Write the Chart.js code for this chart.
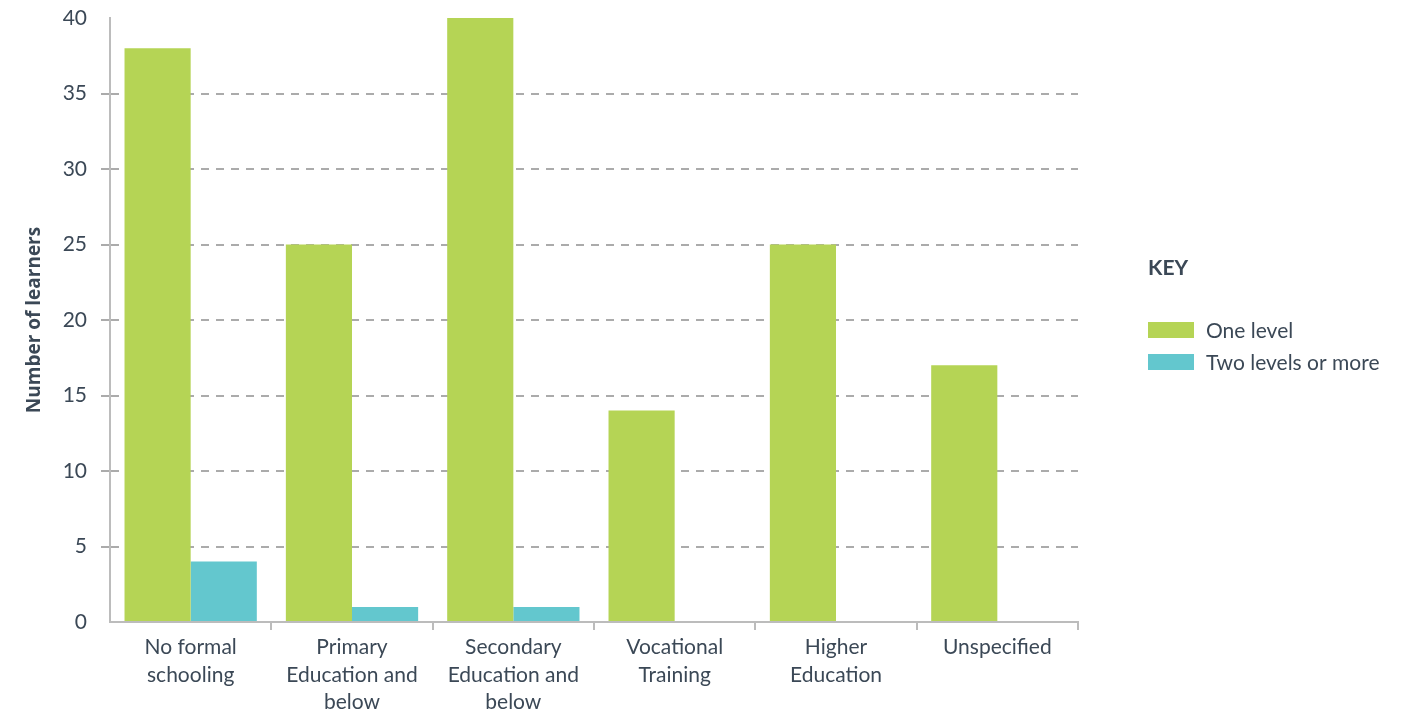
<!DOCTYPE html>
<html>
<head>
<meta charset="utf-8">
<title>Number of learners by education level</title>
<script src="https://cdn.jsdelivr.net/npm/chart.js@4/dist/chart.umd.min.js"></script>
<style>
    html, body { margin: 0; padding: 0; background: #fff; }
    #wrap { width: 1421px; height: 712px; position: relative; }
</style>
</head>
<body>
<div id="wrap"><canvas id="learners-chart"></canvas></div>
<script>
const categories = [
    ['No formal', 'schooling'],
    ['Primary', 'Education and', 'below'],
    ['Secondary', 'Education and', 'below'],
    ['Vocational', 'Training'],
    ['Higher', 'Education'],
    ['Unspecified']
];
const oneLevel = [38, 25, 40, 14, 25, 17];
const twoLevelsOrMore = [4, 1, 1, 0, 0, 0];
const yTicks = [0, 5, 10, 15, 20, 25, 30, 35, 40];

const TEXT = '#3b4856';
const AXIS = '#bcbcbc';
const GRID = '#ababab';
const FONT = 'Lato, "Open Sans", sans-serif';
const CLEAR = 'rgba(0,0,0,0)';

// key drawn on the right, next to the plot
const keyPlugin = {
    id: 'key',
    afterDraw(chart) {
        const ctx = chart.ctx;
        ctx.save();
        ctx.textBaseline = 'middle';
        ctx.textAlign = 'left';
        ctx.fillStyle = TEXT;
        ctx.font = `bold 21px ${FONT}`;
        ctx.fillText('KEY', 1148, 268);
        ctx.font = `21px ${FONT}`;
        chart.data.datasets.forEach((ds, i) => {
            const y = 330 + i * 32;
            ctx.fillStyle = ds.backgroundColor;
            ctx.fillRect(1148, y - 8, 46, 16);
            ctx.fillStyle = TEXT;
            ctx.fillText(ds.label, 1206, y + 1);
        });
        ctx.restore();
    }
};

const hideEnds = c => (c.tick.value === 0 || c.tick.value === 40);

new Chart(document.getElementById('learners-chart'), {
    type: 'bar',
    data: {
        labels: categories,
        datasets: [
            { label: 'One level', data: oneLevel, backgroundColor: '#b5d455' },
            { label: 'Two levels or more', data: twoLevelsOrMore, backgroundColor: '#63c7ce' }
        ]
    },
    options: {
        responsive: true,
        maintainAspectRatio: false,
        animation: false,
        layout: { padding: { top: 18, right: 343, left: 0, bottom: 0 } },
        datasets: { bar: { categoryPercentage: 0.82, barPercentage: 1.0 } },
        plugins: {
            legend: { display: false },
            tooltip: { enabled: false }
        },
        scales: {
            x: {
                offset: true,
                border: { color: AXIS, width: 2 },
                grid: {
                    offset: true,
                    drawOnChartArea: false,
                    tickLength: 8,
                    lineWidth: 2,
                    tickColor: c => c.index === 0 ? CLEAR : AXIS
                },
                ticks: {
                    color: TEXT,
                    font: { family: FONT, size: 21, lineHeight: 1.3 },
                    padding: 4,
                    maxRotation: 0,
                    autoSkip: false
                },
                afterFit: s => { s.height = 90; }
            },
            y: {
                min: 0,
                max: 40,
                afterBuildTicks: s => { s.ticks = yTicks.map(v => ({ value: v })); },
                // border.dash also sets the dash of the grid lines
                border: { color: AXIS, width: 2, dash: [8, 7] },
                grid: {
                    color: c => hideEnds(c) ? CLEAR : GRID,
                    tickColor: c => hideEnds(c) ? CLEAR : GRID,
                    lineWidth: 2,
                    tickLength: 9,
                    tickBorderDash: [8, 7],
                    z: -1
                },
                ticks: {
                    color: TEXT,
                    font: { family: FONT, size: 21 },
                    padding: 14
                },
                title: {
                    display: true,
                    text: 'Number of learners',
                    color: TEXT,
                    font: { family: '"Open Sans", Lato, sans-serif', size: 19, weight: 'bold' },
                    padding: { top: 23, bottom: 0 }
                },
                afterFit: s => {
                    s.width = 110;
                    s.paddingTop = 0;
                    s.paddingBottom = 0;
                }
            }
        }
    },
    plugins: [keyPlugin]
});
</script>
</body>
</html>
